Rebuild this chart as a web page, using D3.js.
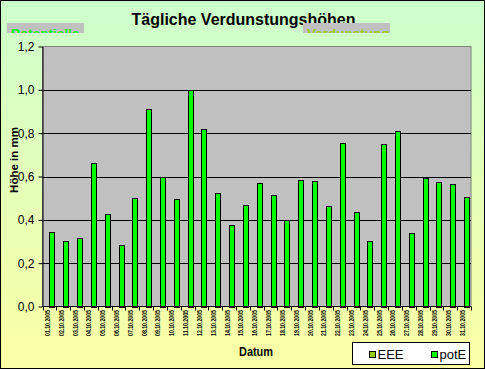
<!DOCTYPE html>
<html>
<head>
<meta charset="utf-8">
<script src="https://cdn.jsdelivr.net/npm/d3@7"></script>
<style>
  body { margin: 0; }
  svg { display: block; font-family: "Liberation Sans", Arial, sans-serif; }
</style>
</head>
<body>
<div id="chart"></div>
<script>
// categories (one per day)
const categories = [
  "01.10.2005", "02.10.2005", "03.10.2005", "04.10.2005", "05.10.2005",
  "06.10.2005", "07.10.2005", "08.10.2005", "09.10.2005", "10.10.2005",
  "11.10.2005", "12.10.2005", "13.10.2005", "14.10.2005", "15.10.2005",
  "16.10.2005", "17.10.2005", "18.10.2005", "19.10.2005", "20.10.2005",
  "21.10.2005", "22.10.2005", "23.10.2005", "24.10.2005", "25.10.2005",
  "26.10.2005", "27.10.2005", "28.10.2005", "29.10.2005", "30.10.2005",
  "31.10.2005"
];

// series values (EEE has no values in the picture)
const EEE = [
  null, null, null, null, null, null, null, null, null, null,
  null, null, null, null, null, null, null, null, null, null,
  null, null, null, null, null, null, null, null, null, null,
  null
];
const potE = [
  0.344, 0.303, 0.316, 0.664, 0.428, 0.284, 0.502, 0.913, 0.598, 0.497,
  0.997, 0.821, 0.524, 0.377, 0.468, 0.571, 0.515, 0.398, 0.585, 0.579,
  0.465, 0.755, 0.437, 0.303, 0.750, 0.810, 0.340, 0.593, 0.575, 0.566,
  0.505
];

const seriesNames = ["EEE", "potE"];
const yTicks = [0, 0.2, 0.4, 0.6, 0.8, 1.0, 1.2];

const width = 485, height = 369;
const plot = { left: 42.5, right: 471, top: 46.5, bottom: 306.5 };
const colors = { EEE: "#99cc00", potE: "#00ff00" };

const svg = d3.select("#chart").append("svg")
    .attr("width", width)
    .attr("height", height);

const defs = svg.append("defs");
const grad = defs.append("linearGradient")
    .attr("id", "bg")
    .attr("x1", 0).attr("y1", 0).attr("x2", 0).attr("y2", 1);
grad.append("stop").attr("offset", "0%").attr("stop-color", "#ccffcc");
grad.append("stop").attr("offset", "100%").attr("stop-color", "#fbffa4");

svg.append("rect")
    .attr("x", 0.5).attr("y", 0.5)
    .attr("width", width - 1).attr("height", height - 1)
    .attr("fill", "url(#bg)")
    .attr("stroke", "#000");

// title
svg.append("text")
    .attr("x", 243.5).attr("y", 25)
    .attr("text-anchor", "middle")
    .attr("font-size", 16)
    .attr("font-weight", "bold")
    .text("Tägliche Verdunstungshöhen");

// the two clipped grey label boxes
const boxes = [
  { x: 7, w: 77, text: "Potentielle", color: "#00ff00" },
  { x: 303, w: 87, text: "Verdunstung", color: "#99cc00" }
];
boxes.forEach((b, i) => {
  defs.append("clipPath").attr("id", "clip" + i)
    .append("rect").attr("x", b.x).attr("y", 23).attr("width", b.w).attr("height", 10);
  const g = svg.append("g").attr("clip-path", "url(#clip" + i + ")");
  g.append("rect")
      .attr("x", b.x).attr("y", 23).attr("width", b.w).attr("height", 10)
      .attr("fill", "#c0c0c0");
  g.append("text")
      .attr("x", b.x + 4).attr("y", 37.5)
      .attr("font-size", 13.5)
      .attr("font-weight", "bold")
      .attr("fill", b.color)
      .text(b.text);
});

// scales
const x0 = d3.scaleBand()
    .domain(categories)
    .range([plot.left, plot.right]);

const x1 = d3.scaleBand()
    .domain(seriesNames)
    .range([0, x0.bandwidth()])
    .paddingOuter(0.15);

const y = d3.scaleLinear()
    .domain([0, 1.2])
    .range([plot.bottom, plot.top]);

const fmt = d3.formatLocale({ decimal: ",", thousands: ".", grouping: [3], currency: ["", "€"] }).format(".1f");

// plot area
svg.append("rect")
    .attr("x", plot.left).attr("y", plot.top)
    .attr("width", plot.right - plot.left).attr("height", plot.bottom - plot.top)
    .attr("fill", "#c0c0c0")
    .attr("stroke", "#808080");

// gridlines
svg.append("g")
  .selectAll("line")
  .data(yTicks.filter(d => d > 0 && d < 1.2))
  .join("line")
    .attr("x1", plot.left).attr("x2", plot.right)
    .attr("y1", d => Math.round(y(d)) + 0.5).attr("y2", d => Math.round(y(d)) + 0.5)
    .attr("stroke", "#000");

// bars
const series = [
  { name: "EEE", values: EEE },
  { name: "potE", values: potE }
];
series.forEach(s => {
  svg.append("g")
    .selectAll("rect")
    .data(categories.map((c, i) => ({ c, v: s.values[i] })).filter(d => d.v != null))
    .join("rect")
      .attr("x", d => Math.round(x0(d.c) + x1(s.name)) + 0.5)
      .attr("y", d => Math.round(y(d.v)) + 0.5)
      .attr("width", Math.round(x1.bandwidth()) - 1)
      .attr("height", d => Math.round(y(0)) - Math.round(y(d.v)))
      .attr("fill", colors[s.name])
      .attr("stroke", "#000");
});

// y axis
const yAxis = svg.append("g")
    .attr("transform", `translate(${plot.left},0)`)
    .call(d3.axisLeft(y).tickValues(yTicks).tickFormat(fmt).tickSize(4).tickPadding(4).tickSizeOuter(0));
yAxis.select(".domain").attr("stroke", "#000");
yAxis.selectAll(".tick line").attr("stroke", "#000");
yAxis.selectAll(".tick text")
    .attr("font-size", 12)
    .attr("font-family", "Liberation Sans, Arial, sans-serif")
    .attr("fill", "#000");

// x axis line and ticks at category boundaries
svg.append("line")
    .attr("x1", plot.left).attr("x2", plot.right)
    .attr("y1", plot.bottom).attr("y2", plot.bottom)
    .attr("stroke", "#000");
svg.append("g")
  .selectAll("line")
  .data(categories.concat(["end"]))
  .join("line")
    .attr("x1", (d, i) => Math.round(plot.left + i * x0.step()) + 0.5)
    .attr("x2", (d, i) => Math.round(plot.left + i * x0.step()) + 0.5)
    .attr("y1", plot.bottom).attr("y2", plot.bottom + 4)
    .attr("stroke", "#000");

svg.append("g")
  .selectAll("text")
  .data(categories)
  .join("text")
    .attr("transform", d => `translate(${x0(d) + x0.bandwidth() / 2 + 0.5},310) rotate(-90)`)
    .attr("text-anchor", "end")
    .attr("font-size", 6.5)
    .attr("font-weight", "bold")
    .attr("textLength", 26)
    .attr("lengthAdjust", "spacingAndGlyphs")
    .text(d => d);

// axis titles
svg.append("text")
    .attr("x", 256).attr("y", 356)
    .attr("text-anchor", "middle")
    .attr("font-size", 12.5)
    .attr("font-weight", "bold")
    .attr("textLength", 34)
    .attr("lengthAdjust", "spacingAndGlyphs")
    .text("Datum");

svg.append("text")
    .attr("transform", "translate(18,160) rotate(-90)")
    .attr("text-anchor", "middle")
    .attr("font-size", 11.5)
    .attr("font-weight", "bold")
    .text("Höhe in mm");

// legend
const legend = svg.append("g");
legend.append("rect")
    .attr("x", 352.5).attr("y", 342.5)
    .attr("width", 117).attr("height", 22)
    .attr("fill", "#fff")
    .attr("stroke", "#000");
const legendX = { EEE: 369.5, potE: 431.5 };
seriesNames.forEach(n => {
  legend.append("rect")
      .attr("x", legendX[n]).attr("y", 351.5)
      .attr("width", 6).attr("height", 6)
      .attr("fill", colors[n])
      .attr("stroke", "#000");
  legend.append("text")
      .attr("x", legendX[n] + 8).attr("y", 359)
      .attr("font-size", 13)
      .text(n);
});
</script>
</body>
</html>
